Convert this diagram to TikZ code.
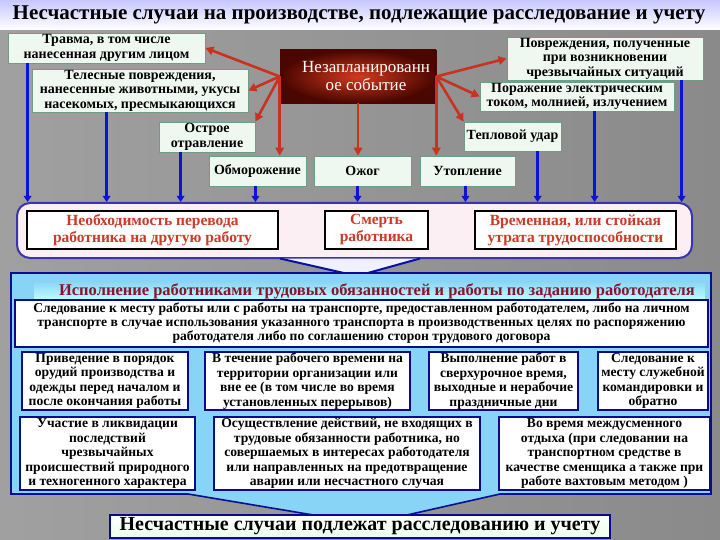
\documentclass[tikz,border=0pt]{standalone}
\usepackage{fontspec}
\setmainfont{LiberationSerif}[Extension=.ttf, UprightFont=*-Regular, BoldFont=*-Bold, ItalicFont=*-Italic, BoldItalicFont=*-BoldItalic]
\usetikzlibrary{arrows.meta}
\definecolor{mintfill}{HTML}{EEF8F1}
\definecolor{mintdraw}{HTML}{6F9C84}
\definecolor{arrred}{HTML}{C8321E}
\definecolor{arrblue}{HTML}{0A14D2}
\definecolor{pinkfill}{HTML}{FBEFF3}
\definecolor{pinkdraw}{HTML}{3A34B0}
\definecolor{txtred}{HTML}{CC3A28}
\definecolor{cyanfill}{HTML}{88D4F6}
\definecolor{navy}{HTML}{0A0A8C}
\definecolor{maroon}{HTML}{8A1430}
\definecolor{bgmid}{HTML}{E4E4E4}
\definecolor{bgleft}{HTML}{A0A0A0}
\definecolor{bgright}{HTML}{8A8A8A}
\definecolor{rbdark}{HTML}{4A0600}
\definecolor{rbred}{HTML}{D23A1E}
\tikzset{
  mint/.style={draw=mintdraw, fill=mintfill, line width=0.8pt, inner sep=0pt, align=center,
    font=\rmfamily\bfseries\fontsize{14}{14.5}\selectfont},
  outcome/.style={draw=black, fill=white, line width=2pt, inner sep=0pt, align=center,
    text=txtred, font=\rmfamily\bfseries\fontsize{15.5}{17}\selectfont},
  cell/.style={draw=navy, fill=white, line width=2.2pt, inner sep=0pt, align=center,
    font=\rmfamily\bfseries\fontsize{13.6}{14.5}\selectfont},
  redarr/.style={draw=arrred, line width=2.6pt, -{Triangle[length=8pt,width=8.5pt]}},
  bluearr/.style={draw=arrblue, line width=3pt, -{Triangle[length=6pt,width=7.5pt]}},
}
\begin{document}
\begin{tikzpicture}[x=1pt,y=-1pt]
\useasboundingbox (0,0) rectangle (720,540);
% background
\shade[left color=bgleft, middle color=bgmid, right color=bgright] (0,0) rectangle (720,540);
\shade[top color=blue!22!white, bottom color=white] (0,0) rectangle (720,30);
\node[font=\rmfamily\bfseries\fontsize{21}{22}\selectfont] (title) at (359,15)
  {Несчастные случаи на производстве, подлежащие расследование и учету};

% top boxes
\node[mint, minimum width=197pt, minimum height=30pt] (b1) at (106.5,48)
  {Травма, в том числе\\нанесенная другим лицом};
\node[mint, minimum width=216pt, minimum height=43pt] (b2) at (140,90.5)
  {Телесные повреждения,\\нанесенные животными, укусы\\насекомых, пресмыкающихся};
\node[mint, minimum width=96pt, minimum height=30pt] (b3) at (207,137)
  {Острое\\отравление};
\node[mint, minimum width=196pt, minimum height=43pt] (b5) at (605,58.5)
  {Повреждения, полученные\\при возникновении\\чрезвычайных ситуаций};
\node[mint, minimum width=194pt, minimum height=29pt] (b6) at (577,96.5)
  {Поражение электрическим\\током, молнией, излучением};
\node[mint, minimum width=97pt, minimum height=29pt] (b7) at (512.5,136.5)
  {Тепловой удар};
\node[mint, minimum width=97pt, minimum height=30pt] (b8) at (257.5,171) {Обморожение};
\node[mint, minimum width=97pt, minimum height=30pt] (b9) at (362.5,171) {Ожог};
\node[mint, minimum width=95pt, minimum height=30pt] (b10) at (467.5,171) {Утопление};

% red box
\shade[inner color=rbred, outer color=rbdark] (280,50) rectangle (436,103);
\node[draw=rbdark, line width=0.6pt, minimum width=156pt, minimum height=53pt, inner sep=0pt] (rb) at (358,76.5) {};
\node[text=white, align=center, font=\rmfamily\fontsize{17}{18.5}\selectfont] (rbt) at (366,76)
  {Незапланированн\\ое событие};

% red arrows
\draw[redarr] (rb.west) -- (b1.east);
\draw[redarr] (rb.west) -- (b2.east);
\draw[redarr] (rb.west) -- (b3.north east);
\draw[redarr] (rb.west) -- (rb.west |- b8.north);
\draw[redarr] (rb.south) -- (rb.south |- b9.north);
\draw[redarr] (rb.east) -- (b5.west);
\draw[redarr] (rb.east) -- (b6.west);
\draw[redarr] (rb.east) -- (b7.north west);
\draw[redarr] (rb.east) -- (rb.east |- b10.north);

% pink outcome panel
\node[draw=pinkdraw, fill=pinkfill, line width=2pt, rounded corners=13pt,
  minimum width=675pt, minimum height=55pt, inner sep=0pt] (pink) at (354.5,230.5) {};
\node[outcome, minimum width=251pt, minimum height=38pt] (p1) at (152.5,230)
  {Необходимость перевода\\работника на другую работу};
\node[outcome, minimum width=103pt, minimum height=38pt] (p2) at (376.5,230)
  {Смерть\\работника};
\node[outcome, minimum width=201pt, minimum height=38pt] (p3) at (575.5,230)
  {Временная, или стойкая\\утрата трудоспособности};

% blue arrows
\draw[bluearr] ([xshift=20pt]b1.south west) -- ([xshift=20pt]b1.south west |- pink.north);
\draw[bluearr] ([xshift=75pt]b2.south west) -- ([xshift=75pt]b2.south west |- pink.north);
\draw[bluearr] ([xshift=22pt]b3.south west) -- ([xshift=22pt]b3.south west |- pink.north);
\draw[bluearr] ([xshift=-2pt]b8.south) -- ([xshift=-2pt]b8.south |- pink.north);
\draw[bluearr] ([xshift=-5pt]b9.south) -- ([xshift=-5pt]b9.south |- pink.north);
\draw[bluearr] ([xshift=-2pt]b10.south) -- ([xshift=-2pt]b10.south |- pink.north);
\draw[bluearr] ([xshift=74pt]b7.south west) -- ([xshift=74pt]b7.south west |- pink.north);
\draw[bluearr] ([xshift=115pt]b6.south west) -- ([xshift=115pt]b6.south west |- pink.north);
\draw[bluearr] ([xshift=175pt]b5.south west) -- ([xshift=175pt]b5.south west |- pink.north);

% chevron
\draw[draw=arrblue!80!black, fill=blue!6!white, line width=2pt, line join=round]
  (280,258.5) -- (357,276) -- (420,258.5);

% cyan panel
\draw[draw=arrblue!70!black, fill=cyanfill, line width=1.6pt]
  (11,273) -- (711,273) -- (711,494) -- (500,494) -- (367,524) -- (188,494) -- (11,494) -- cycle;
\shade[top color=cyanfill, middle color=white, bottom color=cyan!25!white] (34,281) rectangle (705,300);
\node[text=maroon, font=\rmfamily\bfseries\fontsize{16.5}{17}\selectfont] (head) at (377,291)
  {Исполнение работниками трудовых обязанностей и работы по заданию работодателя};
\node[cell, minimum width=693pt, minimum height=47pt, font=\rmfamily\bfseries\fontsize{13.6}{14}\selectfont] (s) at (361.5,323.5)
  {Следование к месту работы или с работы на транспорте, предоставленном работодателем, либо на личном\\
   транспорте в случае использования указанного транспорта в производственных целях по распоряжению\\
   работодателя либо по соглашению сторон трудового договора};
\node[cell, minimum width=166pt, minimum height=58pt] (ca) at (105,381)
  {Приведение в порядок\\орудий производства и\\одежды перед началом и\\после окончания работы};
\node[cell, minimum width=205pt, minimum height=58pt] (cb) at (307.5,381)
  {В течение рабочего времени на\\территории организации или\\вне ее (в том числе во время\\установленных перерывов)};
\node[cell, minimum width=149pt, minimum height=58pt] (cc) at (503.5,381)
  {Выполнение работ в\\сверхурочное время,\\выходные и нерабочие\\праздничные дни};
\node[cell, minimum width=110pt, minimum height=58pt] (cd) at (653,381)
  {Следование к\\месту служебной\\командировки и\\обратно};
\node[cell, minimum width=175pt, minimum height=73pt] (ce) at (107.5,453.5)
  {Участие в ликвидации\\последствий\\чрезвычайных\\происшествий природного\\и техногенного характера};
\node[cell, minimum width=266pt, minimum height=73pt] (cf) at (347,453.5)
  {Осуществление действий, не входящих в\\трудовые обязанности работника, но\\совершаемых в интересах работодателя\\или направленных на предотвращение\\аварии или несчастного случая};
\node[cell, minimum width=211pt, minimum height=73pt] (cg) at (604.5,453.5)
  {Во время междусменного\\отдыха (при следовании на\\транспортном средстве в\\качестве сменщика а также при\\работе вахтовым методом )};

% final box
\node[draw=navy, line width=2pt, top color=white, bottom color=green!8!white, inner sep=0pt,
  minimum width=500pt, minimum height=23pt, font=\rmfamily\bfseries\fontsize{20}{22}\selectfont] (fin) at (360,526.5)
  {Несчастные случаи подлежат расследованию и учету};
\end{tikzpicture}
\end{document}
